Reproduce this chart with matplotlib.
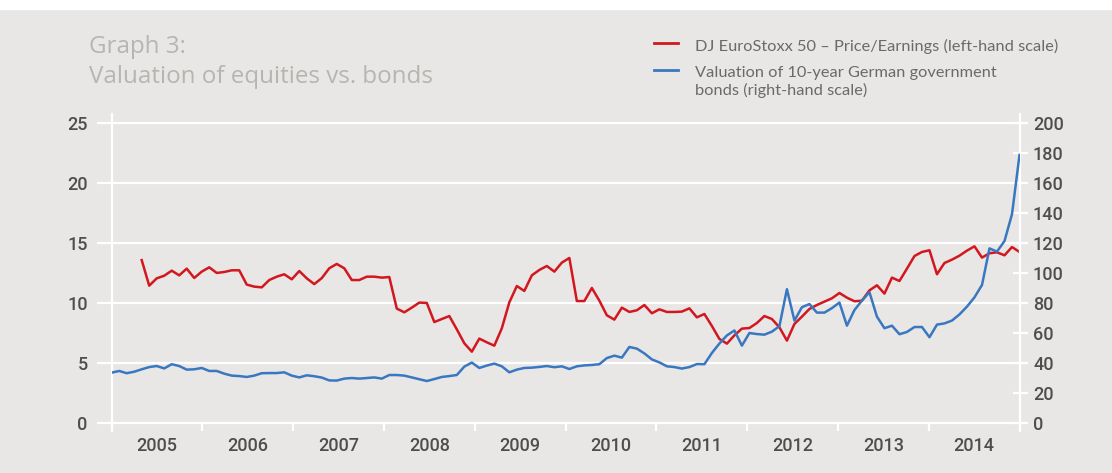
import numpy as np
import matplotlib
matplotlib.use("Agg")
import matplotlib.pyplot as plt
from matplotlib.lines import Line2D
from matplotlib.patches import Rectangle

# Monthly series, Dec 2004 .. Jan 2015
years = ["2005", "2006", "2007", "2008", "2009", "2010", "2011", "2012", "2013", "2014"]

# DJ EuroStoxx 50 price/earnings ratio (left scale), starts in month 4
pe_start = 4
pe_ratio = [
    13.6, 11.47, 12.08, 12.3, 12.72, 12.33, 12.89, 12.11, 12.64, 13.0,
    12.53, 12.61, 12.75, 12.75, 11.56, 11.39, 11.33, 11.94, 12.22, 12.42,
    12.0, 12.69, 12.08, 11.6, 12.1, 12.92, 13.28, 12.92, 11.94, 11.94,
    12.22, 12.22, 12.14, 12.19, 9.56, 9.25, 9.64, 10.06, 10.03, 8.44,
    8.69, 8.94, 7.83, 6.67, 5.97, 7.06, 6.75, 6.47, 7.92, 10.08,
    11.44, 11.03, 12.33, 12.78, 13.11, 12.64, 13.39, 13.78, 10.19, 10.19,
    11.28, 10.22, 9.0, 8.64, 9.64, 9.28, 9.42, 9.86, 9.17, 9.5,
    9.28, 9.28, 9.31, 9.58, 8.83, 9.11, 8.11, 7.03, 6.64, 7.33,
    7.89, 7.94, 8.36, 8.94, 8.69, 8.0, 6.89, 8.28, 8.89, 9.53,
    9.86, 10.14, 10.42, 10.86, 10.47, 10.17, 10.22, 11.08, 11.5, 10.81,
    12.14, 11.86, 12.89, 13.94, 14.28, 14.42, 12.42, 13.36, 13.64, 13.97,
    14.39, 14.75, 13.81, 14.17, 14.25, 14.0, 14.69, 14.28,
]

# Valuation of 10-year German government bonds (right scale)
bund_valuation = [
    33.8, 34.9, 33.4, 34.4, 36.0, 37.5, 38.2, 36.6, 39.4, 38.2,
    35.8, 36.0, 36.9, 34.9, 34.9, 33.1, 31.8, 31.5, 30.9, 31.8,
    33.4, 33.5, 33.5, 34.0, 31.8, 30.6, 32.0, 31.4, 30.5, 28.6,
    28.5, 29.8, 30.2, 29.8, 30.2, 30.6, 29.8, 32.2, 32.2, 31.8,
    30.6, 29.4, 28.2, 29.5, 30.9, 31.5, 32.2, 37.8, 40.5,
    36.9, 38.5, 39.8, 38.0, 34.0, 35.8, 36.9, 37.1, 37.6, 38.2,
    37.4, 38.0, 36.2, 38.0, 38.6, 38.9, 39.4, 43.5, 45.1, 43.8,
    50.9, 49.8, 46.6, 42.6, 40.6, 38.0, 37.5, 36.5, 37.5, 39.5,
    39.4, 46.9, 53.2, 58.6, 61.9, 51.8, 60.2, 59.5, 59.1, 61.1, 64.8,
    89.4, 68.5, 77.4, 79.5, 73.8, 73.8,
    76.8, 80.5, 65.1, 75.5, 81.8, 87.4, 71.1, 63.4, 65.1, 59.4,
    60.9, 64.2, 64.2, 57.4, 65.8, 66.6, 68.5, 72.6, 77.8, 84.0,
    92.2, 116.6, 114.5, 121.5, 139.4, 178.9,
]

pe_label = "DJ EuroStoxx 50 \u2013 Price/Earnings (left-hand scale)"
bund_label = ["Valuation of 10-year German government", "bonds (right-hand scale)"]

months_pe = np.arange(pe_start, pe_start + len(pe_ratio))
months_bund = np.arange(len(bund_valuation))

BG = "#e8e7e5"
RED = "#d3171f"
BLUE = "#3a77c1"
NUM_GREY = "#4e4e4e"
TEXT_GREY = "#6a6a6a"
TITLE_GREY = "#b7b5b1"

plt.rcParams["font.family"] = ["Roboto", "DejaVu Sans"]

W, H = 1112, 473
fig = plt.figure(figsize=(W / 100, H / 100), dpi=100, facecolor=BG)
fig.patches.append(Rectangle((0, 1 - 9 / H), 1, 9 / H, transform=fig.transFigure,
                             color="white", zorder=0))

ax = fig.add_axes([111.7 / W, 1 - 431 / H, (1019.5 - 111.7) / W, (431 - 114) / H])
ax.set_facecolor(BG)
ax2 = ax.twinx()

red_line, = ax.plot(months_pe, pe_ratio, color=RED, lw=1.8, zorder=3)
blue_line, = ax2.plot(months_bund, bund_valuation, color=BLUE, lw=1.8, zorder=3)

# y scales: right axis is 8x the left one
ax.set_ylim(-0.64, 25.775)
ax2.set_ylim(-0.64 * 8, 25.775 * 8)
ax.set_yticks(np.arange(0, 26, 5))
ax2.set_yticks(np.arange(0, 201, 20))
ax.grid(axis="y", color="white", lw=1.6)
ax.set_axisbelow(True)

px = 0.72  # points per pixel at 100 dpi
num_font = dict(labelsize=13, labelcolor=NUM_GREY)
ax.tick_params(axis="y", direction="out", length=15 * px, width=1.6, color="white",
               pad=9 * px, **num_font)
ax2.tick_params(axis="y", direction="inout", length=15 * px, width=1.6, color="white",
                pad=6 * px, **num_font)

# x axis: year boundaries as ticks, year names centred between them
ax.set_xlim(0, 121)
bounds = np.linspace(0, 121, len(years) + 1)
mids = (bounds[:-1] + bounds[1:]) / 2
ax.set_xticks(bounds)
ax.set_xticklabels([])
ax.set_xticks(mids, minor=True)
ax.set_xticklabels(years, minor=True)
ax.tick_params(axis="x", which="major", direction="in", length=8 * px, width=1.6,
               color="white")
ax.tick_params(axis="x", which="minor", length=0, pad=6 * px, **num_font)

for lbl in ax.get_yticklabels() + ax2.get_yticklabels() + ax.get_xticklabels(minor=True):
    lbl.set_fontweight("medium")

for a in (ax, ax2):
    for side in ("top", "bottom", "left", "right"):
        a.spines[side].set_visible(False)
ax.spines["left"].set_visible(True)
ax.spines["left"].set_color("white")
ax.spines["left"].set_linewidth(1.6)
ax2.spines["right"].set_visible(True)
ax2.spines["right"].set_color("white")
ax2.spines["right"].set_linewidth(1.6)

# title
title_kw = dict(family=["Open Sans", "DejaVu Sans"], fontsize=17.4,
                color=TITLE_GREY, va="baseline", ha="left")
fig.text(89 / W, 1 - 53 / H, "Graph 3:", **title_kw)
fig.text(89 / W, 1 - 83 / H, "Valuation of equities vs. bonds", **title_kw)

# legend
leg_kw = dict(family=["Lato", "DejaVu Sans"], fontsize=11.75, color=TEXT_GREY,
              va="baseline", ha="left")
fig.add_artist(Line2D([654 / W, 678 / W], [1 - 43.5 / H] * 2, transform=fig.transFigure,
                      color=red_line.get_color(), lw=2))
fig.text(695 / W, 1 - 51 / H, pe_label, **leg_kw)
fig.add_artist(Line2D([654 / W, 678 / W], [1 - 70 / H] * 2, transform=fig.transFigure,
                      color=blue_line.get_color(), lw=2))
fig.text(695 / W, 1 - 77 / H, bund_label[0], **leg_kw)
fig.text(695 / W, 1 - 95.5 / H, bund_label[1], **leg_kw)

fig.savefig("out.png", dpi=100, facecolor=BG)
